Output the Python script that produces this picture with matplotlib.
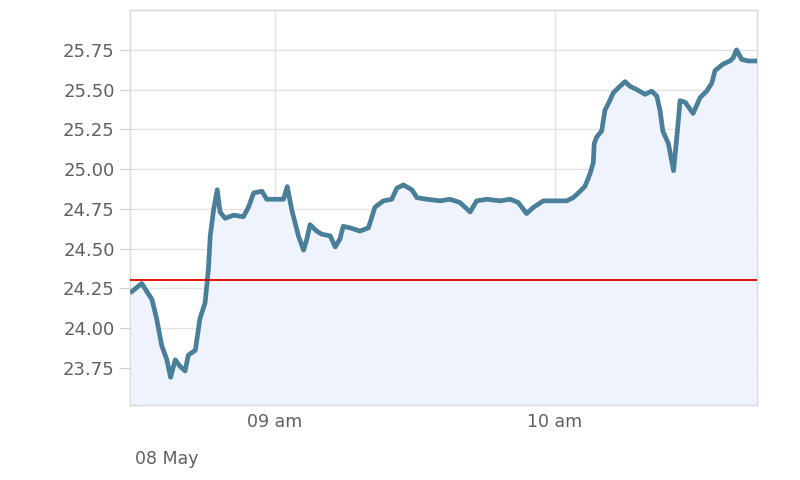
import matplotlib
matplotlib.use("Agg")
import matplotlib.pyplot as plt
import matplotlib.dates as mdates
import pandas as pd

minutes = [
    29.3, 31.4, 33.6, 34.6, 35.7, 36.8, 37.6, 38.6, 39.6, 40.7,
    41.4, 42.9, 43.9, 45.0, 45.7, 46.1, 46.8, 47.6, 48.2, 49.3,
    51.1, 53.2, 54.3, 55.4, 57.2, 58.2, 59.3, 61.8, 62.6, 63.6,
    65.0, 66.1, 66.8, 67.5, 68.9, 70.0, 71.8, 72.9, 73.9, 74.6,
    76.1, 78.2, 80.0, 81.4, 83.2, 85.0, 86.1, 87.5, 89.3, 90.4,
    92.5, 95.4, 97.5, 99.6, 101.8, 103.2, 105.4, 108.2, 110.4, 112.1,
    113.9, 115.4, 117.5, 119.6, 122.5, 123.9, 125.0, 126.4, 127.5, 128.2,
    128.4, 128.9, 130.0, 130.7, 131.4, 132.5, 133.9, 135.0, 136.1, 137.5,
    139.3, 140.7, 141.8, 142.5, 143.1, 144.3, 145.4, 146.1, 146.8, 147.9,
    149.6, 151.1, 152.5, 153.6, 154.3, 156.0, 157.5, 158.2, 158.9, 160.0,
    161.4, 162.9,
]
prices = [
    24.23, 24.28, 24.18, 24.06, 23.89, 23.80, 23.69, 23.80, 23.76, 23.73,
    23.83, 23.86, 24.06, 24.16, 24.37, 24.58, 24.74, 24.87, 24.73, 24.69,
    24.71, 24.70, 24.76, 24.85, 24.86, 24.81, 24.81, 24.81, 24.89, 24.74,
    24.58, 24.49, 24.56, 24.65, 24.61, 24.59, 24.58, 24.51, 24.56, 24.64,
    24.63, 24.61, 24.63, 24.76, 24.80, 24.81, 24.88, 24.90, 24.87, 24.82,
    24.81, 24.80, 24.81, 24.79, 24.73, 24.80, 24.81, 24.80, 24.81, 24.79,
    24.72, 24.76, 24.80, 24.80, 24.80, 24.82, 24.85, 24.89, 24.97, 25.04,
    25.16, 25.20, 25.24, 25.37, 25.41, 25.48, 25.52, 25.55, 25.52, 25.50,
    25.47, 25.49, 25.46, 25.37, 25.24, 25.16, 24.99, 25.20, 25.43, 25.42,
    25.35, 25.45, 25.49, 25.54, 25.62, 25.66, 25.68, 25.70, 25.75, 25.69,
    25.68, 25.68,
]
ref_price = 24.305
y_ticks = [23.75, 24.00, 24.25, 24.50, 24.75, 25.00, 25.25, 25.50, 25.75]

base = pd.Timestamp("2024-05-08 08:00")
times = [base + pd.Timedelta(minutes=m) for m in minutes]

fig = plt.figure(figsize=(8, 4.8), dpi=100)
ax = fig.add_axes([0.1625, 0.156, 0.7838, 0.823])

ax.fill_between(times, prices, 23.5, color="#eef3fd", zorder=1)
ax.plot(times, prices, color="#4a7f99", linewidth=3.4, solid_joinstyle="round", zorder=3)
ax.axhline(ref_price, color="#e00000", linewidth=1.3, zorder=4)

ax.set_xlim(base + pd.Timedelta(minutes=28.9), base + pd.Timedelta(minutes=163.3))
ax.set_ylim(23.515, 26.0)

ax.set_yticks(y_ticks)
ax.set_yticklabels([f"{v:.2f}" for v in y_ticks])
ax.xaxis.set_major_locator(mdates.HourLocator())
ax.xaxis.set_major_formatter(mdates.DateFormatter("%I am"))

ax.grid(True, color="#e2e2e2", linewidth=1, zorder=0)
ax.set_axisbelow(True)
for s in ax.spines.values():
    s.set_color("#d8d8d8")
    s.set_linewidth(1)

ax.tick_params(axis="y", length=7, color="#cccccc", labelcolor="#606060", labelsize=13, pad=4)
ax.tick_params(axis="x", length=0, labelcolor="#606060", labelsize=12.5, pad=6)

fig.text(0.169, 0.024, "08 May", color="#606060", fontsize=12.5, ha="left", va="bottom")

fig.savefig("out.png", dpi=100)
